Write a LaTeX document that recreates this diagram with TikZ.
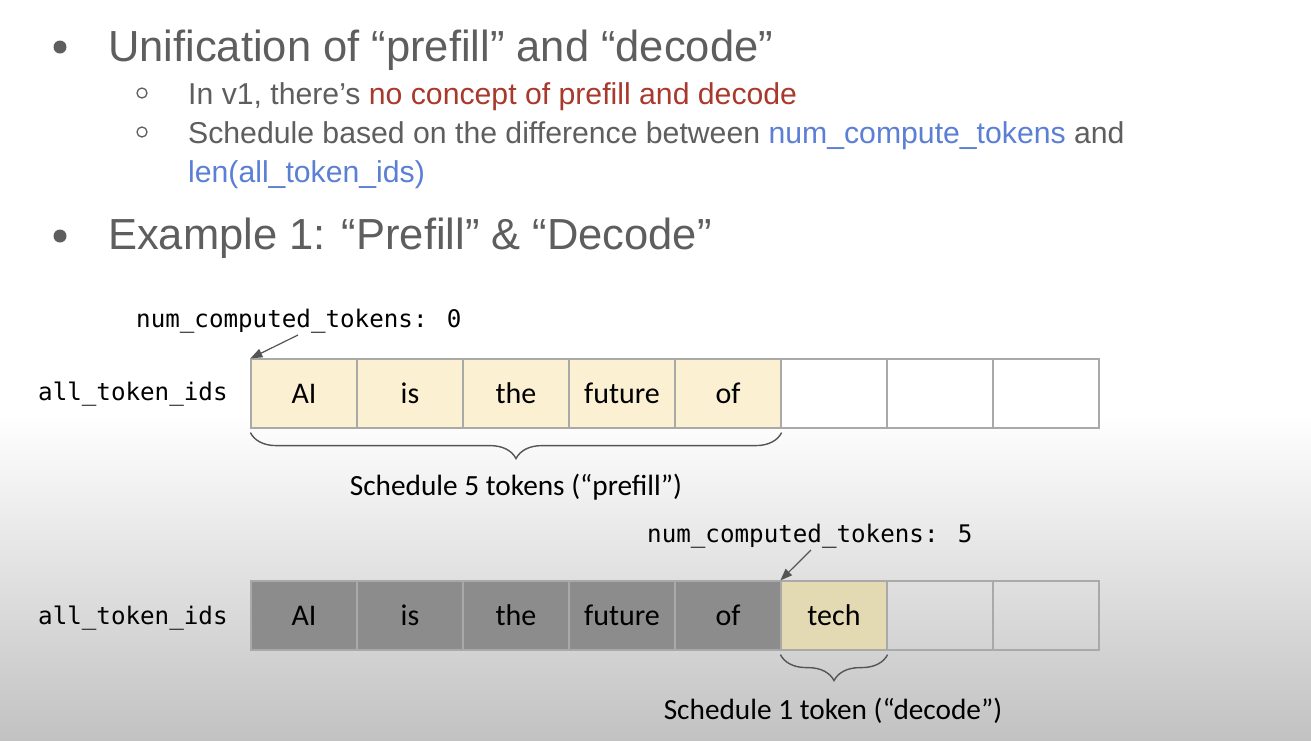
\documentclass[tikz,border=0pt]{standalone}
\usepackage{fontspec}
\setmainfont{Liberation Sans}
\newfontfamily\calfont{Carlito}
\newfontfamily\monofont{DejaVu Sans Mono}
\usetikzlibrary{arrows.meta,decorations.pathreplacing}
\definecolor{txtgray}{HTML}{5E5E5E}
\definecolor{accred}{HTML}{A8392C}
\definecolor{accblue}{HTML}{5B7FD5}
\definecolor{cellyellow}{HTML}{FBF0D1}
\definecolor{celltech}{HTML}{E3D9B3}
\definecolor{celldark}{HTML}{8C8C8C}
\definecolor{cellline}{HTML}{A9A9A9}
\definecolor{bgbottom}{HTML}{C2C2C2}
\definecolor{linegray}{HTML}{555555}
\tikzset{
  headtext/.style={anchor=base west, inner sep=0pt, text=txtgray, font=\fontsize{43.5}{52}\selectfont},
  subtext/.style={anchor=base west, inner sep=0pt, text=txtgray, font=\fontsize{30.2}{36}\selectfont},
  monotext/.style={anchor=base west, inner sep=0pt, text=black, font=\monofont\fontsize{24.2}{28}\selectfont},
  caltext/.style={anchor=base, inner sep=0pt, text=black, font=\calfont\fontsize{29.3}{34}\selectfont},
  cell/.style={draw=cellline, line width=1.2pt, minimum width=106pt, minimum height=69pt, inner sep=0pt,
    text height=19pt, text depth=0pt, font=\calfont\fontsize{30}{34}\selectfont},
  ptrarrow/.style={draw=linegray, line width=1.2pt, -{Triangle[length=12pt,width=9pt]}},
  bracestyle/.style={draw=linegray, line width=1.4pt, decorate, decoration={brace, mirror, amplitude=26pt}},
  bigdot/.style={fill=txtgray, circle, inner sep=0pt, minimum size=13pt},
  smalldot/.style={draw=txtgray, line width=1.3pt, circle, inner sep=0pt, minimum size=10pt},
}
\begin{document}
\begin{tikzpicture}[x=1pt,y=-1pt]
\useasboundingbox (0,0) rectangle (1311,740);
\fill[white] (0,0) rectangle (1311,415);
\shade[top color=white, bottom color=bgbottom] (0,415) rectangle (1311,740);

% bullets
\node[bigdot] (b1) at (60,47) {};
\node[headtext] (h1) at (108,61) {Unification of “prefill” and “decode”};
\node[smalldot] (s1) at (142,93) {};
\node[subtext] (t1) at (188,104) {In v1, there’s \textcolor{accred}{no concept of prefill and decode}};
\node[smalldot] (s2) at (142,132) {};
\node[subtext] (t2) at (188,143) {Schedule based on the difference between \textcolor{accblue}{num\_compute\_tokens} and};
\node[subtext, text=accblue] (t3) at (188,182) {len(all\_token\_ids)};
\node[bigdot] (b2) at (60,236) {};
\node[headtext] (h2) at (108,249) {Example 1: “Prefill” \& “Decode”};

% example row 1
\node[monotext] (n0) at (136,327) {num\_computed\_tokens: 0};
\node[monotext] (l1) at (38,400) {all\_token\_ids};
\node[cell, fill=cellyellow] (a1) at (304,393.5) {AI};
\node[cell, fill=cellyellow] (a2) at (410,393.5) {is};
\node[cell, fill=cellyellow] (a3) at (516,393.5) {the};
\node[cell, fill=cellyellow] (a4) at (622,393.5) {future};
\node[cell, fill=cellyellow] (a5) at (728,393.5) {of};
\node[cell, fill=white] (a6) at (834,393.5) {};
\node[cell, fill=white] (a7) at (940,393.5) {};
\node[cell, fill=white] (a8) at (1046,393.5) {};
\coordinate (p0) at (298,335);
\draw[ptrarrow] (p0) -- (a1.north west);
\draw[bracestyle] ([yshift=-4pt]a1.south west) -- ([yshift=-4pt]a5.south east);
\node[caltext] (c1) at (516,495) {Schedule 5 tokens (“prefill”)};

% example row 2
\node[monotext] (n5) at (647,542) {num\_computed\_tokens: 5};
\node[monotext] (l2) at (38,624) {all\_token\_ids};
\node[cell, fill=celldark] (d1) at (304,615.5) {AI};
\node[cell, fill=celldark] (d2) at (410,615.5) {is};
\node[cell, fill=celldark] (d3) at (516,615.5) {the};
\node[cell, fill=celldark] (d4) at (622,615.5) {future};
\node[cell, fill=celldark] (d5) at (728,615.5) {of};
\node[cell, fill=celltech] (d6) at (834,615.5) {tech};
\node[cell] (d7) at (940,615.5) {};
\node[cell] (d8) at (1046,615.5) {};
\coordinate (p5) at (811,550);
\draw[ptrarrow] (p5) -- (d6.north west);
\draw[bracestyle] ([yshift=-4pt]d6.south west) -- ([yshift=-4pt]d6.south east);
\node[caltext] (c2) at (833,719) {Schedule 1 token (“decode”)};
\end{tikzpicture}
\end{document}
